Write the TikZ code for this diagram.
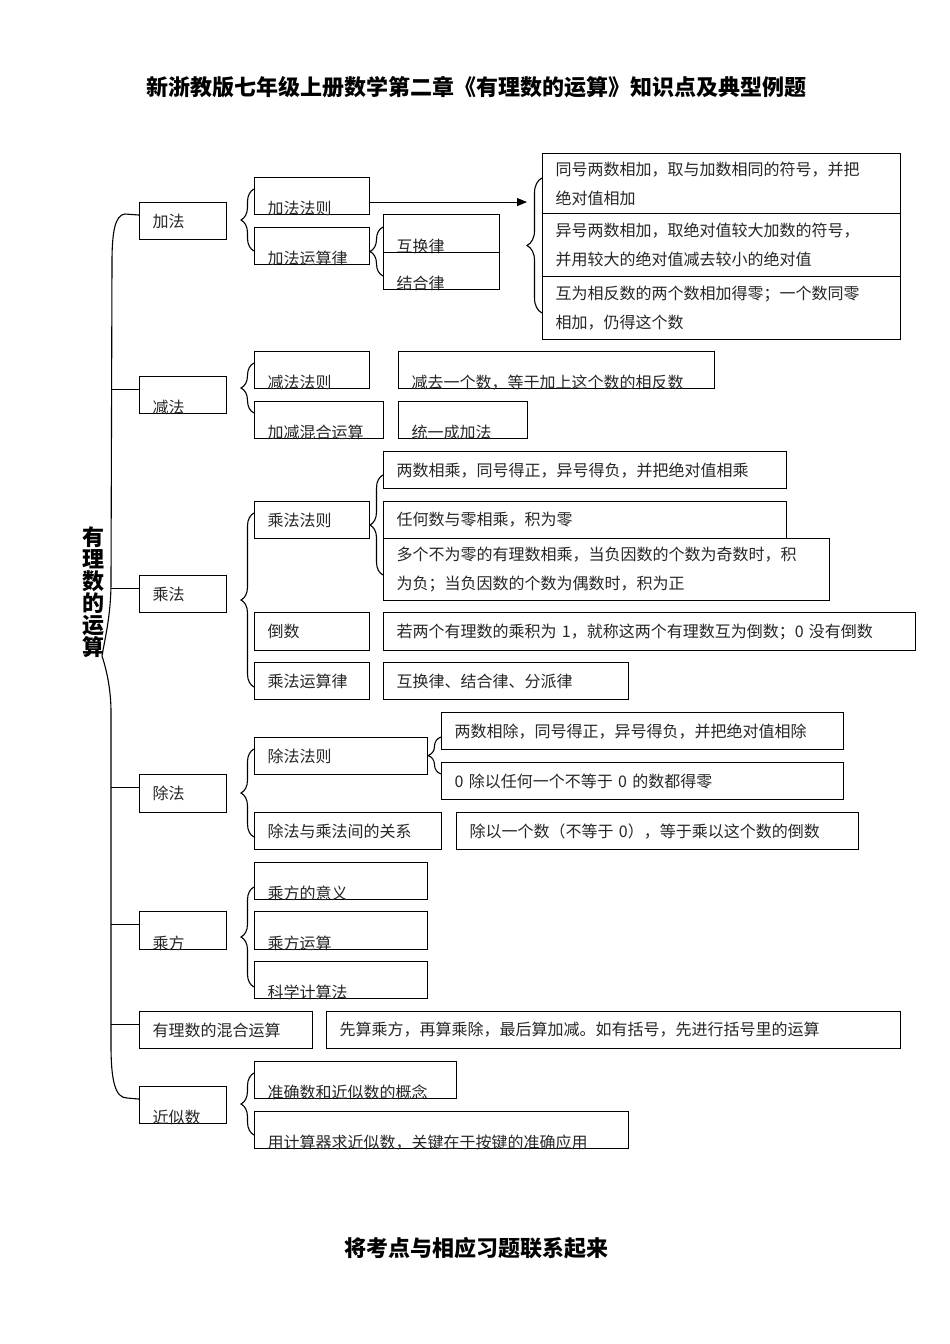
\documentclass[tikz,border=0pt]{standalone}
\usepackage{fontspec}
\setmainfont{Noto Sans CJK SC}
\usetikzlibrary{arrows.meta}
\usetikzlibrary{decorations.pathreplacing}
\tikzset{
 box/.style 2 args={draw, line width=1.1pt, anchor=north west, inner xsep=13pt, inner ysep=0pt,
   minimum width=#1pt, text width=#1pt-26pt, minimum height=#2pt, align=left,
   font=\fontsize{16}{29}\selectfont, text=black!85},
 low/.style={text height=#1pt, text depth=0pt},
 brc/.style={decorate, decoration={brace, amplitude=#1}, line width=1.1pt},
}
\begin{document}
\begin{tikzpicture}[x=1pt,y=-1pt,line width=1.1pt]
\useasboundingbox (0,0) rectangle (950,1344);
\node[font=\bfseries\fontsize{22}{22}\selectfont] (title) at (476,87) {新浙教版七年级上册数学第二章《有理数的运算》知识点及典型例题};
\node[font=\bfseries\fontsize{22}{22}\selectfont] (foot) at (476,1248) {将考点与相应习题联系起来};
\node[font=\bfseries\fontsize{22}{22}\selectfont, align=center, inner sep=0pt] (root) at (93,592) {有\\理\\数\\的\\运\\算};
\node[box={87}{37}] (jiafa) at (139,202) {加法};
\node[box={87}{37}, low=37] (jianfa) at (139,376) {减法};
\node[box={87}{37}] (chengfa) at (139,575) {乘法};
\node[box={87}{38}] (chufa) at (139,774) {除法};
\node[box={87}{38}, low=38] (chengfang) at (139,911) {乘方};
\node[box={173}{37}] (hunhe) at (139,1011) {有理数的混合运算};
\node[box={87}{37}, low=37] (jinsi) at (139,1086) {近似数};
\node[box={115}{37}, low=37] (jfrule) at (254,177) {加法法则};
\node[box={115}{37}, low=37] (jflaw) at (254,227) {加法运算律};
\node[box={116}{38}, low=38] (swap) at (383,214) {互换律};
\node[box={116}{37}, low=37] (assoc) at (383,252) {结合律};
\node[box={358}{60}] (addA) at (542,153) {同号两数相加，取与加数相同的符号，并把\\绝对值相加};
\node[box={358}{63}] (addB) at (542,213) {异号两数相加，取绝对值较大加数的符号，\\并用较大的绝对值减去较小的绝对值};
\node[box={358}{63}] (addC) at (542,276) {互为相反数的两个数相加得零；一个数同零\\相加，仍得这个数};
\node[box={115}{37}, low=37] (jfrule2) at (254,351) {减法法则};
\node[box={129}{37}, low=37] (mix) at (254,401) {加减混合运算};
\node[box={316}{37}, low=37] (subA) at (398,351) {减去一个数，等于加上这个数的相反数};
\node[box={129}{37}, low=37] (subB) at (398,401) {统一成加法};
\node[box={115}{37}] (cfrule) at (254,501) {乘法法则};
\node[box={115}{38}] (recip) at (254,612) {倒数};
\node[box={115}{37}] (cflaw) at (254,662) {乘法运算律};
\node[box={403}{37}] (mulA) at (383,451) {两数相乘，同号得正，异号得负，并把绝对值相乘};
\node[box={403}{37}] (mulB) at (383,501) {任何数与零相乘，积为零};
\node[box={446}{62}] (mulC) at (383,538) {多个不为零的有理数相乘，当负因数的个数为奇数时，积\\为负；当负因数的个数为偶数时，积为正};
\node[box={532}{38}] (recipA) at (383,612) {若两个有理数的乘积为 1，就称这两个有理数互为倒数；0 没有倒数};
\node[box={245}{37}] (mullaw) at (383,662) {互换律、结合律、分派律};
\node[box={173}{37}] (cdrule) at (254,737) {除法法则};
\node[box={187}{37}] (rel) at (254,812) {除法与乘法间的关系};
\node[box={402}{37}] (divA) at (441,712) {两数相除，同号得正，异号得负，并把绝对值相除};
\node[box={402}{37}] (divB) at (441,762) {0 除以任何一个不等于 0 的数都得零};
\node[box={402}{37}] (divC) at (456,812) {除以一个数（不等于 0），等于乘以这个数的倒数};
\node[box={173}{37}, low=37] (powA) at (254,862) {乘方的意义};
\node[box={173}{38}, low=38] (powB) at (254,911) {乘方运算};
\node[box={173}{37}, low=37] (powC) at (254,961) {科学计算法};
\node[box={574}{37}] (order) at (326,1011) {先算乘方，再算乘除，最后算加减。如有括号，先进行括号里的运算};
\node[box={202}{37}, low=37] (apxA) at (254,1061) {准确数和近似数的概念};
\node[box={374}{37}, low=37] (apxB) at (254,1111) {用计算器求近似数，关键在于按键的准确应用};
\coordinate (tk) at (111,0);
\coordinate (tip) at (527,0);
\foreach \n in {jiafa,jianfa,chengfa,chufa,chengfang,hunhe,jinsi}
 \coordinate (\n-c) at ([yshift=6pt]\n.west);
\foreach \n in {jianfa,chengfa,chufa,chengfang,hunhe}
 \draw (\n-c) -- (\n-c -| tk);
\draw (jiafa-c) -- (125,214) .. controls (115,215) and (112,232) .. (112,262) -- (111,582)
  .. controls (111,615) and (105,638) .. (102,656) .. controls (106,668) and (111,688) .. (111,712)
  -- (111,1045) .. controls (111,1080) and (115,1098) .. (127,1098) -- (jinsi-c);
\coordinate (jfrule-r) at ([yshift=-6pt]jfrule.east);
\draw[-{Triangle[length=10pt,width=8pt]}] (jfrule-r) -- (jfrule-r -| tip);
\draw[brc=13pt] (254,251) -- (254,189);
\draw[brc=13pt] (383,276) -- (383,227);
\draw[brc=15pt] (542,313) -- (542,178);
\draw[brc=13pt] (254,413) -- (254,363);
\draw[brc=13pt] (254,687) -- (254,513);
\draw[brc=13pt] (383,575) -- (383,475);
\draw[brc=13pt] (254,837) -- (254,749);
\draw[brc=13pt] (441,774) -- (441,737);
\draw[brc=13pt] (254,987) -- (254,887);
\draw[brc=13pt] (254,1135) -- (254,1073);
\end{tikzpicture}
\end{document}
